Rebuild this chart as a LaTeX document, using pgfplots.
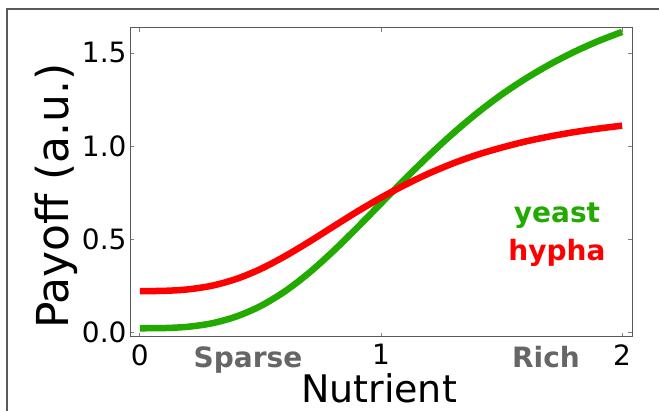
\documentclass[border=0pt]{standalone}
\usepackage{pgfplots}
\pgfplotsset{compat=1.18}
\usepackage{fontspec}
\setmainfont{DejaVu Sans}
\definecolor{yeastgreen}{RGB}{34,170,0}
\definecolor{hyphared}{RGB}{255,0,0}
\definecolor{labgray}{RGB}{102,102,102}
\definecolor{framegray}{RGB}{90,90,90}
\begin{document}
\begin{tikzpicture}
\useasboundingbox (0,0) rectangle (659bp,411bp);
\fill[white] (0,0) rectangle (659bp,411bp);
\draw[framegray, line width=1.5bp] (7bp,0) -- (7bp,402bp) -- (660bp,402bp);
\begin{axis}[
  at={(130bp,74bp)}, anchor=south west,
  width=502bp, height=309bp, scale only axis,
  xmin=-0.041, xmax=2.041, ymin=-0.027, ymax=1.634,
  xtick={0,1,2}, ytick={0,0.5,1.0,1.5},
  yticklabel style={/pgf/number format/fixed, /pgf/number format/fixed zerofill, /pgf/number format/precision=1},
  xticklabel style={/pgf/number format/fixed, /pgf/number format/precision=0, yshift=-4bp},
  /pgf/number format/assume math mode=true,
  ticklabel style={font=\fontsize{28bp}{32bp}\selectfont},
  tick style={gray, line width=0.8bp},
  major tick length=4bp,
  axis line style={framegray, line width=1bp},
  clip=false,
]
\addplot[yeastgreen, line width=6.5bp, smooth] coordinates {
(0,0.020) (0.1,0.021) (0.2,0.028) (0.3,0.047) (0.4,0.083) (0.5,0.139) (0.6,0.217) (0.7,0.316) (0.8,0.432) (0.9,0.559) (1.0,0.691) (1.1,0.823) (1.2,0.950) (1.3,1.069) (1.4,1.178) (1.5,1.276) (1.6,1.362) (1.7,1.438) (1.8,1.505) (1.9,1.563) (2.0,1.613)
};
\addplot[hyphared, line width=6.5bp, smooth] coordinates {
(0,0.220) (0.1,0.221) (0.2,0.229) (0.3,0.249) (0.4,0.285) (0.5,0.338) (0.6,0.406) (0.7,0.483) (0.8,0.565) (0.9,0.646) (1.0,0.722) (1.1,0.791) (1.2,0.853) (1.3,0.907) (1.4,0.953) (1.5,0.991) (1.6,1.024) (1.7,1.051) (1.8,1.074) (1.9,1.093) (2.0,1.109)
};
\end{axis}
\node[anchor=base, text=yeastgreen, font=\fontsize{28bp}{32bp}\selectfont\bfseries, inner sep=0] at (557bp,188bp) {yeast};
\node[anchor=base, text=hyphared, font=\fontsize{28bp}{32bp}\selectfont\bfseries, inner sep=0] at (557bp,150bp) {hypha};
\node[anchor=base, text=labgray, font=\fontsize{28bp}{32bp}\selectfont\bfseries, inner sep=0] at (248bp,43bp) {Sparse};
\node[anchor=base, text=labgray, font=\fontsize{28bp}{32bp}\selectfont\bfseries, inner sep=0] at (546bp,43bp) {Rich};
\node[anchor=base, font=\fontsize{38bp}{44bp}\selectfont, inner sep=0] at (379bp,9bp) {Nutrient};
\node[anchor=base, rotate=90, font=\fontsize{44bp}{50bp}\selectfont, inner sep=0] at (68bp,215bp) {Payoff (a.u.)};
\end{tikzpicture}
\end{document}
